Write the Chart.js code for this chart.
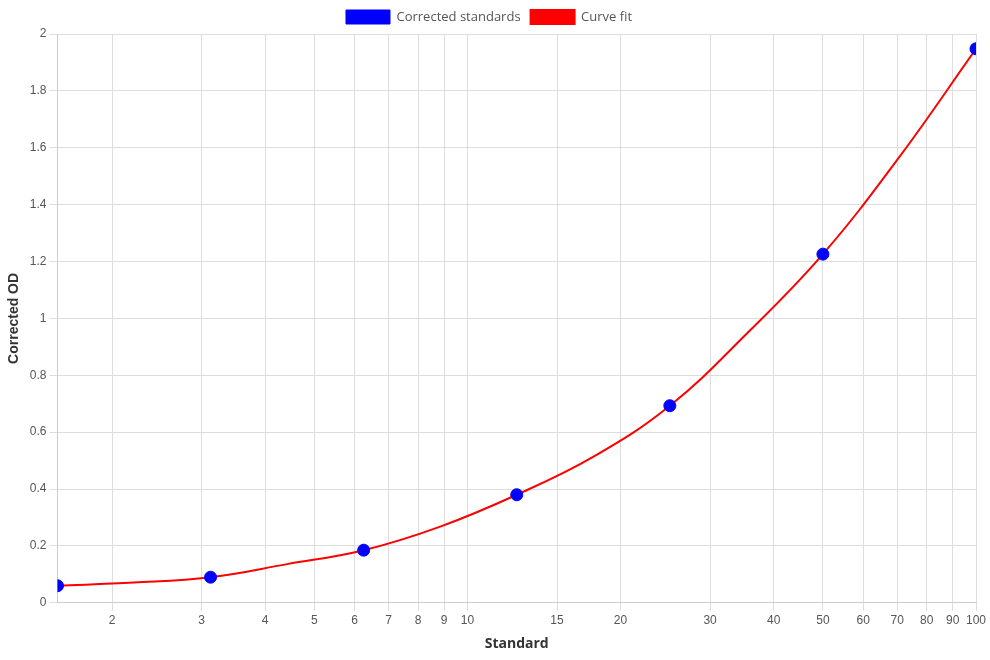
<!DOCTYPE html>
<html>
<head>
<meta charset="utf-8">
<script src="https://cdn.jsdelivr.net/npm/chart.js@4"></script>
<style>
html,body{margin:0;padding:0;background:#fff;}
#wrap{width:990px;height:660px;}
</style>
</head>
<body>
<div id="wrap"><canvas id="c" width="990" height="660"></canvas></div>
<script>
const standards = [1.5625, 3.125, 6.25, 12.5, 25, 50, 100];
const correctedOD = [0.060, 0.090, 0.185, 0.380, 0.693, 1.226, 1.948];

const fitX = [1.5625, 2.21, 3.125, 4.42, 6.25, 8.84, 12.5, 17.7, 25, 35.4, 50, 70.7, 100];
const fitY = [0.060, 0.071, 0.090, 0.136, 0.185, 0.268, 0.380, 0.514, 0.693, 0.946, 1.226, 1.568, 1.948];

const xTicks = [2, 3, 4, 5, 6, 7, 8, 9, 10, 15, 20, 30, 40, 50, 60, 70, 80, 90, 100];

const tickFont = {family: "'Liberation Sans', Arial, sans-serif", size: 12};
new Chart(document.getElementById('c'), {
  type: 'scatter',
  data: {
    datasets: [
      {
        label: 'Corrected standards',
        data: standards.map((x, i) => ({x, y: correctedOD[i]})),
        backgroundColor: '#0000ff',
        borderColor: '#0000ff',
        pointRadius: 6,
        pointHoverRadius: 6,
        showLine: false,
        order: 0
      },
      {
        label: 'Curve fit',
        data: fitX.map((x, i) => ({x, y: fitY[i]})),
        backgroundColor: '#ff0000',
        borderColor: '#ff0000',
        borderWidth: 2,
        pointRadius: 0,
        showLine: true,
        tension: 0.4,
        order: 1
      }
    ]
  },
  options: {
    responsive: false,
    animation: false,
    layout: {padding: {left: 2, right: 14, top: 0, bottom: 4}},
    plugins: {
      legend: {
        position: 'top',
        labels: {
          font: {family: "'Open Sans', sans-serif", size: 13},
          color: '#555',
          boxWidth: 44,
          boxHeight: 14
        }
      },
      tooltip: {enabled: false}
    },
    scales: {
      x: {
        type: 'logarithmic',
        min: 1.5625,
        max: 100,
        afterBuildTicks: (scale) => { scale.ticks = xTicks.map(v => ({value: v})); },
        ticks: {
          font: tickFont,
          color: '#555',
          autoSkip: false,
          maxRotation: 0,
          callback: (v) => String(v)
        },
        grid: {color: '#dddddd'},
        border: {color: '#cccccc'},
        title: {
          display: true,
          text: 'Standard',
          font: {family: "'Open Sans', sans-serif", size: 14, weight: 'bold'},
          color: '#333'
        }
      },
      y: {
        min: 0,
        max: 2,
        ticks: {
          stepSize: 0.2,
          font: tickFont,
          color: '#555',
          callback: (v) => String(Math.round(v * 10) / 10)
        },
        grid: {color: '#dddddd'},
        border: {color: '#cccccc'},
        title: {
          display: true,
          text: 'Corrected OD',
          font: {family: "'Liberation Sans', Arial, sans-serif", size: 14, weight: 'bold'},
          color: '#333'
        }
      }
    }
  }
});
</script>
</body>
</html>
